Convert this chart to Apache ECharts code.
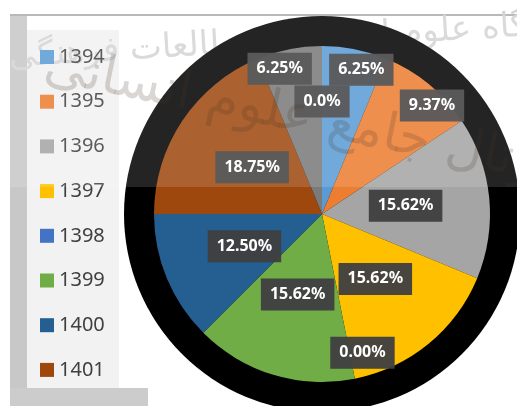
<!DOCTYPE html>
<html>
<head>
<meta charset="utf-8">
<title>ECharts</title>
<script src="https://cdn.jsdelivr.net/npm/echarts@6/dist/echarts.min.js"></script>
<style>
*{margin:0px; padding:0px;}
body{background:#fff;}
#main{width:517px; height:406px;}
</style>
</head>
<body>
<div id="main"></div>
<script type="text/javascript">
var years = ['1394', '1395', '1396', '1397', '1398', '1399', '1400', '1401', '1402', '1403'];
var shares = [6.25, 9.37, 15.62, 15.62, 0, 15.62, 12.50, 18.75, 6.25, 0];
var shareLabels = ['6.25%', '9.37%', '15.62%', '15.62%', '0.00%', '15.62%', '12.50%', '18.75%', '6.25%', '0.0%'];
var legendYears = ['1394', '1395', '1396', '1397', '1398', '1399', '1400', '1401'];

var colors = ['#5b9bd5', '#ed7d31', '#a5a5a5', '#ffc000', '#4472c4', '#70ad47', '#255e91', '#9e480e', '#7a7a7a', '#997300'];
// where each label sits: share of the radius, and a small turn (degrees, clockwise)
var labelRadius = [0.89, 0.92, 0.5, 0.5, 0.86, 0.5, 0.5, 0.5, 0.9, 0.67];
var labelTurn = [4, 6, 0, 0, -5, 0, 0, 0, -5, 0];

var cx = 322, cy = 214, R = 168;

var myChart = echarts.init(document.getElementById('main'));

var pieData = years.map(function (y, i) {
    return {name: y, value: shares[i], itemStyle: {color: colors[i]}};
});

var option = {
    backgroundColor: '#fff',
    animation: false,
    graphic: [
        // watermark at the top
        {type: 'text', left: 8, top: 4, rotation: 0.06, z: 1,
         style: {text: 'پژوهشگاه علوم انسانی و مطالعات فرهنگی', font: '34px "DejaVu Sans"', fill: '#d4d4d4'}},
        {type: 'rect', shape: {x: 10, y: 14, width: 507, height: 2}, style: {fill: '#b8b8b8'}},
        {type: 'rect', shape: {x: 10, y: 16, width: 17, height: 390}, style: {fill: '#c8c8c8'}},
        {type: 'rect', shape: {x: 27, y: 30, width: 92, height: 363}, style: {fill: '#f2f2f2'}},
        {type: 'rect', shape: {x: 10, y: 388, width: 138, height: 18}, style: {fill: '#cccccc'}},
        // watermark over the pie
        {type: 'text', x: 300, y: 118, rotation: -0.2, z: 50,
         style: {text: 'پرتال جامع علوم انسانی', font: '52px "DejaVu Sans"', fill: 'rgba(40,20,0,0.2)',
                 align: 'center', verticalAlign: 'middle'}},
        // lighter band across the upper part of the scan
        {type: 'rect', z: 100, silent: true, shape: {x: 0, y: 16, width: 517, height: 171},
         style: {fill: 'rgba(255,255,255,0.14)'}}
    ],
    legend: {
        data: legendYears,
        orient: 'vertical',
        left: 40,
        top: 47,
        padding: 0,
        itemWidth: 14,
        itemHeight: 14,
        itemGap: 24.7,
        icon: 'rect',
        textStyle: {fontSize: 20, lineHeight: 20, color: '#404040', fontFamily: 'Noto Sans'}
    },
    series: [
        {
            // dark scan shadow behind the pie
            type: 'pie',
            silent: true,
            center: [cx, cy],
            radius: 198,
            label: {show: false},
            labelLine: {show: false},
            data: [{name: 'shadow', value: 1, itemStyle: {color: '#000'}}],
            z: 1
        },
        {
            type: 'pie',
            center: [cx, cy],
            radius: R,
            startAngle: 90,
            clockwise: true,
            data: pieData,
            itemStyle: {borderWidth: 0},
            emphasis: {scale: false},
            labelLine: {show: false},
            label: {
                show: true,
                position: 'inside',
                formatter: function (p) {
                    return shareLabels[p.dataIndex];
                },
                color: '#fff',
                fontSize: 16,
                fontWeight: 'bold',
                fontFamily: 'Noto Sans',
                lineHeight: 20,
                backgroundColor: 'rgba(64,64,64,0.96)',
                padding: [6, 9]
            },
            labelLayout: function (p) {
                var i = p.dataIndex;
                var lx = p.labelRect.x + p.labelRect.width / 2;
                var ly = p.labelRect.y + p.labelRect.height / 2;
                // angle of the default label spot, measured clockwise from the top
                var a = Math.atan2(lx - cx, cy - ly) + labelTurn[i] * Math.PI / 180;
                var d = labelRadius[i] * R;
                var tx = cx + d * Math.sin(a);
                var ty = cy - d * Math.cos(a);
                return {dx: tx - lx, dy: ty - ly};
            },
            z: 3
        }
    ]
};

myChart.setOption(option);
</script>
</body>
</html>
